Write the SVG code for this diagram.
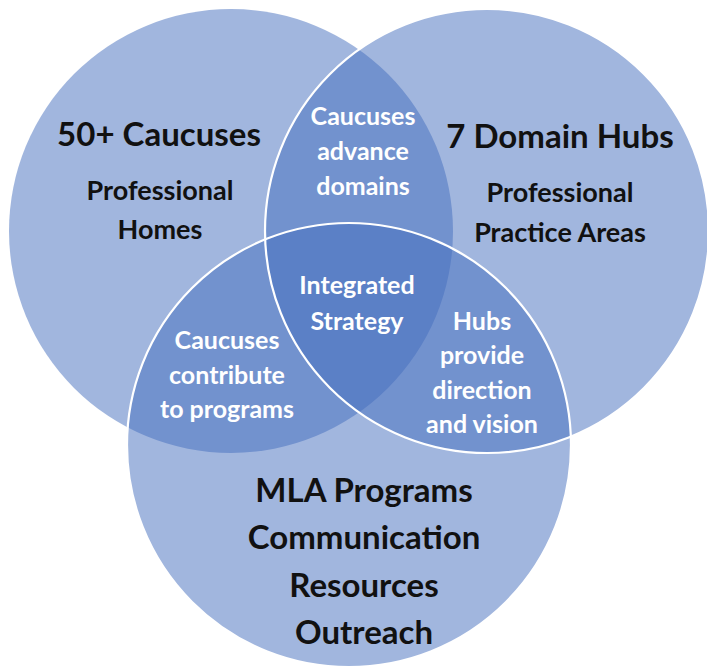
<svg xmlns="http://www.w3.org/2000/svg" width="707" height="667" viewBox="0 0 707 667">
<style>
.c{fill:#436DBD;fill-opacity:0.5}
.s{fill:none;stroke:#ffffff;stroke-width:2.2}
text{font-family:Lato,"Open Sans","Liberation Sans",sans-serif;font-weight:bold;text-anchor:middle}
.big{font-size:33px;fill:#111111}
.mid{font-size:27px;fill:#111111}
.w{font-size:25px;fill:#ffffff}
</style>
<rect width="707" height="667" fill="#ffffff"/>
<g id="caucuses">
<circle class="c" cx="231" cy="231" r="222"/>
</g>
<g id="hubs">
<circle class="c" cx="487" cy="231" r="222"/>
</g>
<g id="programs">
<circle class="c" cx="349" cy="445" r="222"/>
</g>
<g id="connectors">
<circle class="s" cx="487" cy="231" r="222"/>
<circle class="s" cx="349" cy="445" r="222"/>
</g>
<g id="labels-caucuses">
<text class="big" x="159" y="146">50+ Caucuses</text>
<text class="mid" x="160" y="200">Professional</text>
<text class="mid" x="160" y="239">Homes</text>
</g>
<g id="labels-hubs">
<text class="big" x="560" y="148">7 Domain Hubs</text>
<text class="mid" x="560" y="202">Professional</text>
<text class="mid" x="560" y="242">Practice Areas</text>
</g>
<g id="labels-programs">
<text class="big" x="364" y="502">MLA Programs</text>
<text class="big" x="364" y="549">Communication</text>
<text class="big" x="364" y="597">Resources</text>
<text class="big" x="364" y="644">Outreach</text>
</g>
<g id="overlap-top">
<text class="w" x="363" y="125">Caucuses</text>
<text class="w" x="363" y="160">advance</text>
<text class="w" x="363" y="195">domains</text>
</g>
<g id="overlap-center">
<text class="w" x="357" y="294">Integrated</text>
<text class="w" x="357" y="330">Strategy</text>
</g>
<g id="overlap-left">
<text class="w" x="227" y="349">Caucuses</text>
<text class="w" x="227" y="384">contribute</text>
<text class="w" x="227" y="418">to programs</text>
</g>
<g id="overlap-right">
<text class="w" x="482" y="330">Hubs</text>
<text class="w" x="482" y="364">provide</text>
<text class="w" x="482" y="399">direction</text>
<text class="w" x="482" y="433">and vision</text>
</g>
</svg>
